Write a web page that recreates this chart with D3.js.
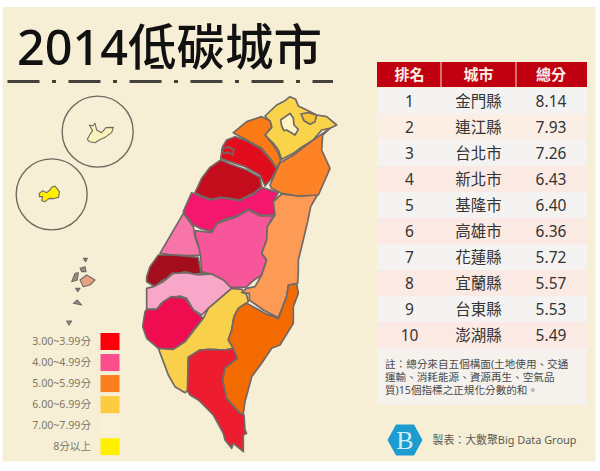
<!DOCTYPE html>
<html>
<head>
<meta charset="utf-8">
<script src="https://cdn.jsdelivr.net/npm/d3@7"></script>
<style>
  html, body { margin: 0; padding: 0; background: #fff; }
  svg { display: block; }
  text { font-family: "Noto Sans", "Noto Sans CJK TC", sans-serif; }
</style>
</head>
<body>
<svg id="chart" width="600" height="471"></svg>
<script>
// table
const ranks = [1, 2, 3, 4, 5, 6, 7, 8, 9, 10];
const cities = ['金門縣', '連江縣', '台北市', '新北市', '基隆市', '高雄市', '花蓮縣', '宜蘭縣', '台東縣', '澎湖縣'];
const scores = ['8.14', '7.93', '7.26', '6.43', '6.40', '6.36', '5.72', '5.57', '5.53', '5.49'];
const headers = ['排名', '城市', '總分'];
const noteLines = ['註：總分來自五個構面(土地使用、交通', '運輸、消耗能源、資源再生、空氣品', '質)15個指標之正規化分數的和。'];

// legend
const legendLabels = ['3.00~3.99分', '4.00~4.99分', '5.00~5.99分', '6.00~6.99分', '7.00~7.99分', '8分以上'];
const legendColors = ['#fb0008', '#fa4f8c', '#fb7d20', '#fccb40', '#f9f1d8', '#fff000'];

// county outlines, traced in map units off the picture
const newTaipei = [[405,78],[440,45],[465,32],[480,20],[497,28],[505,48],[530,60],[560,75],[590,80],[620,105],[600,115],[575,120],[550,150],[510,175],[490,190],[455,208],[445,180],[430,160],[405,135],[425,112],[420,95]];
const taipei = [[452,90],[480,70],[490,85],[492,105],[505,118],[495,135],[470,120],[462,122],[455,108]];
const keelung = [[513,72],[535,68],[560,75],[555,95],[540,103],[522,92]];
const taoyuan = [[310,128],[350,95],[395,80],[420,92],[425,110],[405,135],[430,165],[445,190],[452,210],[440,235],[420,205],[395,175],[350,150]];
const hsinchu = [[290,150],[315,140],[350,152],[395,178],[420,208],[440,237],[425,265],[405,288],[390,255],[345,230],[290,212],[272,205],[278,170]];
const hsinchuCity = [[275,178],[295,170],[312,180],[308,195],[295,187],[282,190]];
const miaoli = [[240,232],[272,210],[300,222],[350,240],[390,262],[395,290],[370,310],[345,322],[330,330],[300,325],[270,322],[250,328],[235,325],[215,318],[195,308],[215,265]];
const taichung = [[185,308],[215,320],[235,328],[250,330],[270,323],[300,327],[330,333],[345,324],[372,312],[395,292],[445,308],[430,335],[435,375],[390,375],[355,358],[320,378],[290,385],[262,398],[245,425],[210,415],[190,405],[165,375],[160,365]];
const changhua = [[160,370],[190,410],[195,440],[205,470],[222,495],[180,497],[130,495],[90,490],[125,430]];
const nantou = [[195,422],[245,428],[262,400],[320,380],[355,360],[390,378],[430,378],[412,410],[410,450],[395,490],[410,510],[395,555],[370,572],[348,592],[300,592],[280,570],[245,552],[215,548],[212,500],[205,465],[197,440]];
const yunlin = [[85,495],[130,495],[205,502],[212,545],[245,552],[215,550],[190,552],[165,545],[140,552],[125,550],[110,565],[100,570],[85,580],[75,590],[50,575],[50,560],[60,530]];
const chiayi = [[50,595],[70,590],[100,575],[130,550],[170,548],[205,555],[245,552],[280,570],[305,595],[270,625],[235,655],[215,675],[190,660],[170,625],[150,618],[120,622],[95,640],[80,658],[50,658],[50,630]];
const tainan = [[50,658],[80,658],[100,635],[125,620],[165,625],[190,660],[220,685],[190,720],[165,755],[130,778],[85,775],[50,745],[38,710],[45,665]];
const kaohsiung = [[305,595],[335,598],[350,615],[355,635],[325,655],[312,680],[305,720],[295,750],[310,775],[285,780],[240,778],[210,780],[175,802],[175,900],[165,908],[135,890],[115,855],[85,775],[130,778],[165,755],[220,685],[235,655],[270,625]];
const pingtung = [[210,780],[240,778],[285,780],[310,775],[322,805],[285,835],[278,870],[290,925],[330,970],[342,975],[345,1020],[350,1030],[340,1035],[340,1085],[310,1060],[305,1075],[285,1050],[280,1030],[250,975],[205,930],[180,915],[172,902],[175,802]];
const taitung = [[340,645],[350,640],[405,670],[445,685],[470,620],[475,585],[500,582],[505,610],[490,650],[490,700],[450,765],[425,775],[395,820],[365,860],[345,935],[340,970],[330,970],[290,925],[278,870],[285,835],[322,805],[310,775],[295,750],[305,720],[312,680],[325,655]];
const hualien = [[455,312],[505,318],[562,315],[542,350],[533,395],[515,470],[505,510],[505,540],[503,580],[475,585],[470,620],[445,683],[400,660],[358,630],[358,610],[335,608],[350,595],[375,590],[395,555],[410,510],[395,490],[410,450],[412,410],[435,375],[430,335]];
const yilan = [[450,218],[490,195],[550,150],[600,115],[578,135],[575,180],[600,235],[585,270],[565,315],[505,318],[455,310],[425,295],[420,285],[440,240]];

const counties = [newTaipei, taoyuan, hsinchu, miaoli, taichung, changhua, nantou, yunlin, chiayi, tainan, kaohsiung, pingtung, hualien, taitung, yilan, taipei, keelung, hsinchuCity];
const countyFills = ['#f9d44c', '#fb7a12', '#e2101f', '#c40f1f', '#f5166e', '#f875a9', '#f8569b', '#a30a1c', '#f9a7c9', '#f0084f', '#f9d04c', '#ed1c2e', '#fd9a56', '#f36a05', '#fe8226', '#fdf3c4', '#f6c430', '#e2101f'];

// offshore islands, traced in their own units
const matsu = [[262,148],[272,130],[278,122],[268,105],[278,108],[285,100],[290,120],[305,128],[318,113],[340,112],[335,128],[318,140],[298,150],[285,158],[268,155]];
const kinmen = [[118,310],[128,302],[140,308],[150,300],[155,292],[165,288],[178,305],[176,322],[160,326],[148,325],[135,335],[125,332],[128,320],[118,320]];
const penghuMain = [[240,570],[260,555],[285,570],[270,585],[250,590]];
const penghuSmall = [[[215,575],[225,550],[235,548],[232,570]], [[240,535],[255,530],[258,545],[245,545]], [[227,595],[240,595],[233,605]], [[220,640],[232,630],[245,645]], [[200,693],[215,693],[207,705]], [[250,505],[262,505],[257,515]]];
const islandCircles = [[293,125],[155,313]];

const svg = d3.select('#chart');
const border = '#726866';

svg.append('filter').attr('id', 'soft')
  .append('feGaussianBlur').attr('stdDeviation', 0.4);

svg.append('rect').attr('x', 2.5).attr('y', 7).attr('width', 593).attr('height', 454.5).attr('fill', '#f7efd5');

// title
svg.append('text')
  .attr('x', 17).attr('y', 65)
  .attr('font-size', 48.5).attr('font-weight', 500).attr('fill', '#111')
  .text('2014低碳城市');
svg.append('line')
  .attr('x1', 7.5).attr('x2', 333).attr('y1', 81.5).attr('y2', 81.5)
  .attr('stroke', '#45413a').attr('stroke-width', 3)
  .attr('stroke-dasharray', '32 12.5 4 12.5');

// main island
const mapX = d3.scaleLinear().domain([0, 690]).range([130, 360]);
const mapY = d3.scaleLinear().domain([0, 1140]).range([90, 470]);
const mapLine = d3.line().x(d => mapX(d[0])).y(d => mapY(d[1])).curve(d3.curveLinearClosed);

svg.append('g').attr('filter', 'url(#soft)').selectAll('path')
  .data(counties)
  .join('path')
  .attr('d', mapLine)
  .attr('fill', (d, i) => countyFills[i])
  .attr('stroke', border)
  .attr('stroke-width', 1.7)
  .attr('stroke-linejoin', 'round');

// offshore islands
const isleX = d3.scaleLinear().domain([0, 390]).range([0, 130]);
const isleY = d3.scaleLinear().domain([0, 720]).range([90, 330]);
const isleLine = d3.line().x(d => isleX(d[0])).y(d => isleY(d[1])).curve(d3.curveLinearClosed);

svg.append('g').selectAll('circle')
  .data(islandCircles)
  .join('circle')
  .attr('cx', d => isleX(d[0]))
  .attr('cy', d => isleY(d[1]))
  .attr('r', 35.5)
  .attr('fill', 'none')
  .attr('stroke', '#6d6a60')
  .attr('stroke-width', 1.4);

const isles = svg.append('g').attr('filter', 'url(#soft)').attr('stroke', border).attr('stroke-width', 1.1).attr('stroke-linejoin', 'round');
isles.append('path').attr('d', isleLine(matsu)).attr('fill', '#fcf3b8');
isles.append('path').attr('d', isleLine(kinmen)).attr('fill', '#fff000');
isles.append('path').attr('d', isleLine(penghuMain)).attr('fill', '#e9a184');
isles.selectAll('.small')
  .data(penghuSmall)
  .join('path')
  .attr('class', 'small')
  .attr('d', isleLine)
  .attr('fill', '#968d82');

// legend
const legendY = d3.scaleBand().domain(legendLabels).range([333, 455]).paddingInner(0.2);
const legend = svg.append('g').selectAll('g')
  .data(legendLabels)
  .join('g')
  .attr('transform', d => `translate(0,${legendY(d)})`);
legend.append('rect')
  .attr('x', 100.5).attr('width', 19)
  .attr('height', 17)
  .attr('fill', (d, i) => legendColors[i]);
legend.append('text')
  .attr('x', 91).attr('y', 8.5)
  .attr('dy', '0.35em')
  .attr('text-anchor', 'end')
  .attr('font-size', 10.6)
  .attr('fill', '#7d7869')
  .text(d => d);

// table
const colX = d3.scaleOrdinal().domain(headers).range([409.5, 478.5, 551]);
const rowY = d3.scaleBand().domain(ranks).range([88, 348]);
const tableLeft = 377;
const tableWidth = 210;

svg.append('rect').attr('x', tableLeft).attr('y', 62).attr('width', tableWidth).attr('height', 25).attr('fill', '#c00010');
svg.append('g').selectAll('line')
  .data([441, 516])
  .join('line')
  .attr('x1', d => d).attr('x2', d => d).attr('y1', 62).attr('y2', 87)
  .attr('stroke', '#f5dcd0').attr('stroke-width', 1);
svg.append('g').selectAll('text')
  .data(headers)
  .join('text')
  .attr('x', d => colX(d)).attr('y', 74.5)
  .attr('dy', '0.36em')
  .attr('text-anchor', 'middle')
  .attr('font-size', 15).attr('font-weight', 700).attr('fill', '#fbeee6')
  .text(d => d);

const rows = svg.append('g').selectAll('g')
  .data(ranks)
  .join('g')
  .attr('transform', d => `translate(0,${rowY(d)})`);
rows.append('rect')
  .attr('x', tableLeft).attr('width', tableWidth)
  .attr('height', rowY.bandwidth())
  .attr('fill', d => d % 2 ? '#f5f3f1' : (d === 2 ? '#fbeee4' : '#fbe9e4'));
[ranks, cities, scores].forEach((col, c) => {
  rows.append('text')
    .attr('x', colX(headers[c]))
    .attr('y', rowY.bandwidth() / 2)
    .attr('dy', '0.36em')
    .attr('text-anchor', 'middle')
    .attr('font-size', 15.5)
    .attr('fill', '#333')
    .text((d, i) => col[i]);
});

// note box
svg.append('rect').attr('x', tableLeft).attr('y', 348).attr('width', tableWidth).attr('height', 57).attr('fill', '#f5f2ee');
svg.append('g').selectAll('text')
  .data(noteLines)
  .join('text')
  .attr('x', 385)
  .attr('y', (d, i) => 367.5 + i * 13)
  .attr('font-size', 10.6)
  .attr('fill', '#4a4a4a')
  .text(d => d);

// logo and credit
const hex = d3.line()([[387.5,440],[396,424.5],[414,424.5],[422.5,440],[414,455.5],[396,455.5]]) + 'Z';
svg.append('path').attr('d', hex).attr('fill', '#1c9ccf');
svg.append('text')
  .attr('x', 405).attr('y', 449)
  .attr('text-anchor', 'middle')
  .attr('font-size', 26)
  .attr('fill', '#cfeef6')
  .style('font-family', '"Liberation Serif", serif')
  .text('B');
svg.append('text')
  .attr('x', 432.5).attr('y', 444)
  .attr('font-size', 10.9)
  .attr('fill', '#5a5a58')
  .text('製表：大數聚Big Data Group');
</script>
</body>
</html>
